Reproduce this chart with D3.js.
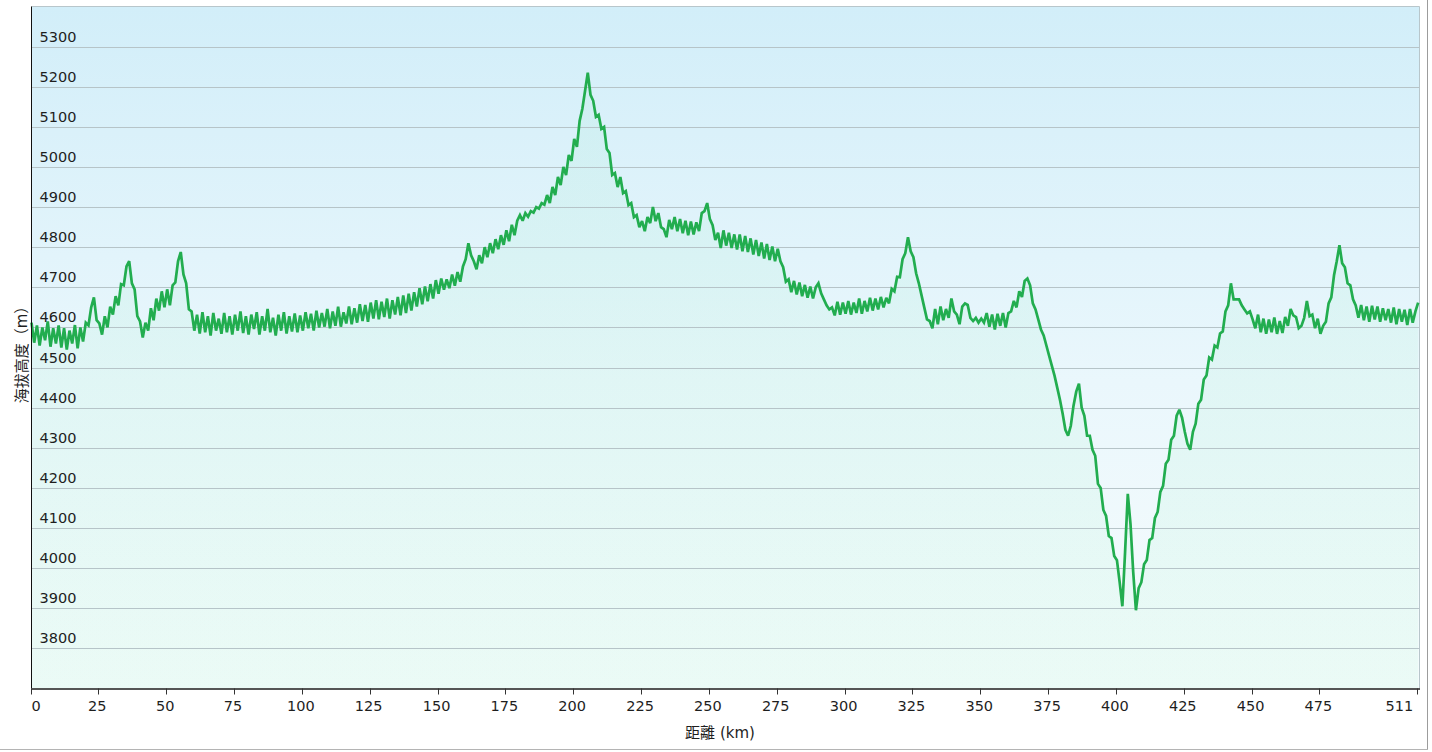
<!DOCTYPE html>
<html>
<head>
<meta charset="utf-8">
<script src="https://cdn.jsdelivr.net/npm/d3@7"></script>
<style>
  html, body { margin: 0; padding: 0; background: #ffffff; }
  svg { display: block; font-family: "DejaVu Sans", "Noto Sans CJK TC", sans-serif; }
</style>
</head>
<body>
<svg id="chart" width="1432" height="752"></svg>
<script>
// ---- data ----
const stepKm = 1; // sample spacing (km) of the elevation profile
const elevation = [
  4612, 4562, 4605, 4555, 4600, 4568, 4615, 4552, 4598, 4560,
  4605, 4550, 4598, 4545, 4592, 4560, 4606, 4548, 4600, 4565,
  4612, 4605, 4650, 4675, 4618, 4610, 4582, 4628, 4600, 4652,
  4632, 4678, 4655, 4708, 4705, 4752, 4765, 4710, 4695, 4628,
  4615, 4575, 4612, 4592, 4648, 4618, 4672, 4642, 4690, 4650,
  4695, 4655, 4705, 4712, 4765, 4788, 4732, 4710, 4645, 4640,
  4592, 4632, 4585, 4638, 4588, 4628, 4580, 4636, 4592, 4622,
  4584, 4636, 4588, 4628, 4582, 4632, 4592, 4640, 4586, 4628,
  4582, 4632, 4596, 4638, 4582, 4628, 4592, 4646, 4588, 4624,
  4580, 4632, 4592, 4638, 4585, 4628, 4590, 4635, 4588, 4630,
  4592, 4638, 4598, 4634, 4592, 4642, 4600, 4636, 4602, 4646,
  4598, 4640, 4604, 4652, 4602, 4638, 4610, 4652, 4608, 4648,
  4612, 4658, 4616, 4656, 4614, 4662, 4622, 4668, 4620, 4664,
  4626, 4672, 4622, 4668, 4632, 4676, 4630, 4680, 4636, 4684,
  4642, 4688, 4652, 4698, 4658, 4702, 4665, 4708, 4672, 4718,
  4684, 4722, 4694, 4720, 4698, 4732, 4704, 4738, 4714, 4752,
  4770, 4810, 4780, 4765, 4745, 4780, 4760, 4800, 4775, 4810,
  4785, 4820, 4795, 4830, 4806, 4842, 4815, 4856, 4830, 4866,
  4880, 4866, 4885, 4876, 4890, 4886, 4900, 4896, 4910, 4906,
  4930, 4910, 4950, 4930, 4975, 4955, 5000, 4980, 5030, 5015,
  5070, 5050, 5115, 5145, 5190, 5235, 5180, 5165, 5125, 5130,
  5095, 5100, 5045, 5035, 4980, 4985, 4950, 4975, 4935, 4940,
  4905, 4910, 4875, 4880, 4850, 4865, 4840, 4875, 4860, 4900,
  4865, 4885, 4850, 4845, 4825, 4868, 4845, 4875, 4840, 4870,
  4835, 4866, 4830, 4864, 4832, 4862, 4840, 4885, 4890, 4910,
  4870, 4855, 4818, 4836, 4798, 4842, 4804, 4836, 4798, 4832,
  4794, 4832, 4790, 4828, 4788, 4822, 4782, 4818, 4778, 4812,
  4772, 4808, 4768, 4802, 4765, 4796, 4765, 4750, 4714, 4720,
  4688, 4716, 4682, 4712, 4678, 4706, 4674, 4702, 4672, 4700,
  4710, 4685, 4670, 4655, 4645, 4650, 4630, 4664, 4632, 4662,
  4634, 4666, 4632, 4662, 4636, 4672, 4634, 4666, 4640, 4674,
  4642, 4672, 4645, 4676, 4650, 4674, 4660, 4696, 4690, 4726,
  4725, 4770, 4785, 4825, 4790, 4775, 4735, 4710, 4680, 4650,
  4620, 4616, 4598, 4646, 4608, 4652, 4618, 4646, 4624, 4672,
  4640, 4632, 4608, 4652, 4660, 4656, 4624, 4616, 4624, 4612,
  4622, 4612, 4636, 4602, 4632, 4595, 4634, 4604, 4636, 4600,
  4636, 4640, 4666, 4650, 4690, 4676, 4716, 4722, 4705, 4660,
  4645, 4620, 4595, 4580, 4555, 4530, 4505, 4480, 4450, 4420,
  4385, 4345, 4330, 4355, 4405, 4440, 4460, 4400, 4380, 4330,
  4330, 4295, 4280, 4210, 4200, 4145, 4130, 4080, 4075, 4030,
  4020, 3965, 3905, 4040, 4185, 4110, 3990, 3895, 3950, 3965,
  4010, 4020, 4070, 4075, 4125, 4140, 4190, 4205, 4260, 4270,
  4320, 4330, 4380, 4395, 4375, 4340, 4310, 4295, 4340, 4360,
  4410, 4420, 4470, 4480, 4525, 4520, 4555, 4550, 4585, 4590,
  4640, 4655, 4710, 4670, 4670, 4670, 4655, 4645, 4635, 4640,
  4620, 4598, 4632, 4588, 4622, 4584, 4620, 4588, 4625, 4584,
  4616, 4586, 4626, 4604, 4646, 4630, 4626, 4598, 4604, 4624,
  4666, 4628, 4632, 4598, 4622, 4584, 4604, 4614, 4660, 4675,
  4730, 4765, 4805, 4760, 4750, 4710, 4705, 4670, 4655, 4624,
  4656, 4618, 4652, 4614, 4654, 4620, 4652, 4614, 4648, 4618,
  4646, 4612, 4650, 4608, 4646, 4614, 4644, 4606, 4646, 4612,
  4640, 4662
];
const xTickValues = [0, 25, 50, 75, 100, 125, 150, 175, 200, 225, 250, 275, 300, 325, 350, 375, 400, 425, 450, 475, 511];
const yTickValues = [3800, 3900, 4000, 4100, 4200, 4300, 4400, 4500, 4600, 4700, 4800, 4900, 5000, 5100, 5200, 5300];
const xDomain = [0, 511.5];
const yDomain = [3700, 5400];
const xTitle = "距離 (km)";
const yTitle = "海拔高度（m）";

// ---- layout ----
const plot = { left: 31.5, right: 1419.5, top: 6.5, bottom: 688.5 };
const svg = d3.select("#chart");

const x = d3.scaleLinear().domain(xDomain).range([plot.left, plot.right]);
const y = d3.scaleLinear().domain(yDomain).range([plot.bottom, plot.top]);

const points = elevation.map((e, i) => ({ d: i * stepKm, e }));

const defs = svg.append("defs");
const bg = defs.append("linearGradient").attr("id", "bg").attr("x1", 0).attr("y1", 0).attr("x2", 0).attr("y2", 1);
bg.append("stop").attr("offset", "0%").attr("stop-color", "#d2eef9");
bg.append("stop").attr("offset", "55%").attr("stop-color", "#eaf7fc");
bg.append("stop").attr("offset", "100%").attr("stop-color", "#f6fcfd");
const ag = defs.append("linearGradient").attr("id", "ag").attr("x1", 0).attr("y1", 0).attr("x2", 0).attr("y2", 1);
ag.append("stop").attr("offset", "0%").attr("stop-color", "rgb(80,225,140)").attr("stop-opacity", 0.06);
ag.append("stop").attr("offset", "100%").attr("stop-color", "rgb(90,235,150)").attr("stop-opacity", 0.07);

// outer frame (right & bottom edge)
svg.append("line").attr("x1", 1427.5).attr("x2", 1427.5).attr("y1", 0).attr("y2", 750).attr("stroke", "#9c9c9c").attr("stroke-width", 1);
svg.append("line").attr("x1", 0).attr("x2", 1428).attr("y1", 749.5).attr("y2", 749.5).attr("stroke", "#b4b4b4").attr("stroke-width", 1);

// plot background
svg.append("rect")
  .attr("x", plot.left).attr("y", plot.top)
  .attr("width", plot.right - plot.left).attr("height", plot.bottom - plot.top)
  .attr("fill", "url(#bg)");

// area under profile
const area = d3.area().x(p => x(p.d)).y0(plot.bottom).y1(p => y(p.e));
svg.append("path").datum(points).attr("d", area).attr("fill", "url(#ag)");

// grid lines
svg.append("g").selectAll("line").data(yTickValues).join("line")
  .attr("x1", plot.left).attr("x2", plot.right)
  .attr("y1", v => Math.round(y(v)) + 0.5).attr("y2", v => Math.round(y(v)) + 0.5)
  .attr("stroke", "#b6c4c8").attr("stroke-width", 1);

// plot border (top & right)
svg.append("line").attr("x1", plot.left).attr("x2", plot.right).attr("y1", plot.top).attr("y2", plot.top).attr("stroke", "#b8c6cb");
svg.append("line").attr("x1", plot.right).attr("x2", plot.right).attr("y1", plot.top).attr("y2", plot.bottom).attr("stroke", "#b8c6cb");

// profile line
const line = d3.line().x(p => x(p.d)).y(p => y(p.e));
svg.append("path").datum(points).attr("d", line)
  .attr("fill", "none").attr("stroke", "#22ad4f").attr("stroke-width", 2.7)
  .attr("stroke-linejoin", "miter").attr("stroke-miterlimit", 2.5);

// y tick labels (inside plot, above grid line)
svg.append("g").selectAll("text").data(yTickValues).join("text")
  .attr("x", 39.5).attr("y", v => Math.round(y(v)) - 5)
  .attr("font-size", 14.5).attr("fill", "#1e1e1e")
  .text(v => v);

// axes lines
svg.append("line").attr("x1", plot.left).attr("x2", plot.left).attr("y1", plot.top).attr("y2", plot.bottom + 1).attr("stroke", "#111").attr("stroke-width", 1);
svg.append("line").attr("x1", plot.left - 0.5).attr("x2", plot.right + 0.5).attr("y1", plot.bottom + 0.5).attr("y2", plot.bottom + 0.5).attr("stroke", "#555").attr("stroke-width", 2);

// x ticks
svg.append("g").selectAll("line").data(xTickValues).join("line")
  .attr("x1", v => Math.round(x(v)) - 0.5).attr("x2", v => Math.round(x(v)) - 0.5)
  .attr("y1", plot.bottom).attr("y2", plot.bottom + 6)
  .attr("stroke", "#333").attr("stroke-width", 1);

svg.append("g").selectAll("text").data(xTickValues).join("text")
  .attr("x", (v, i) => i === 0 ? x(v) : (i === xTickValues.length - 1 ? x(v) - 5 : x(v) - 2))
  .attr("y", 711)
  .attr("text-anchor", (v, i) => i === 0 ? "start" : (i === xTickValues.length - 1 ? "end" : "middle"))
  .attr("font-size", 14.5).attr("fill", "#1e1e1e")
  .text(v => v);

// axis titles
svg.append("text")
  .attr("x", 720).attr("y", 738)
  .attr("text-anchor", "middle").attr("font-size", 15).attr("fill", "#1e1e1e")
  .text(xTitle);

svg.append("text")
  .attr("transform", "translate(27,351) rotate(-90)")
  .attr("text-anchor", "middle").attr("font-size", 15).attr("fill", "#1e1e1e")
  .text(yTitle);
</script>
</body>
</html>
